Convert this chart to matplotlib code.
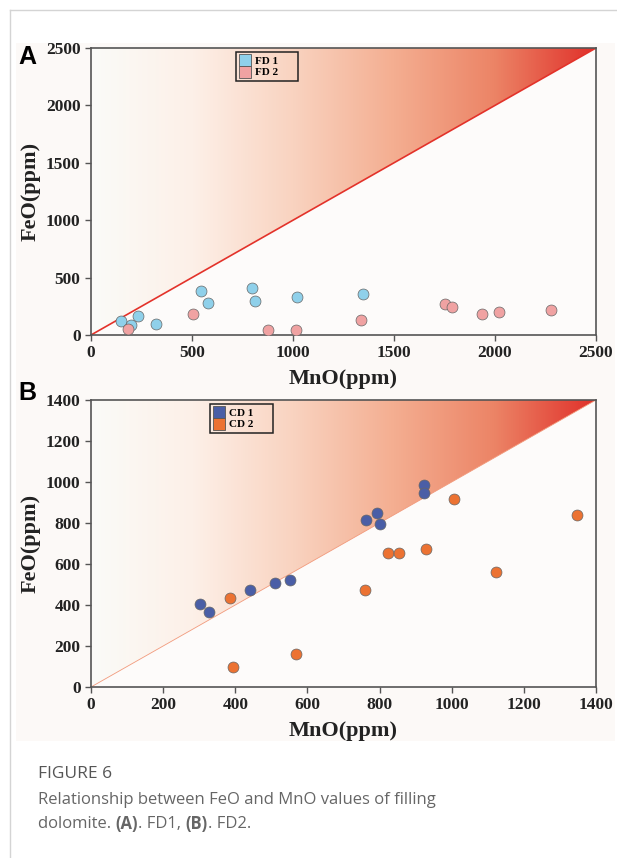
import numpy as np
import matplotlib
matplotlib.use("Agg")
import matplotlib.pyplot as plt
from matplotlib.colors import LinearSegmentedColormap
from matplotlib.patches import Polygon, Rectangle
from matplotlib.lines import Line2D

# Panel A: FD1 / FD2 (MnO, FeO in ppm)
fd1_mno = [148, 200, 235, 323, 547, 578, 795, 812, 1018, 1347]
fd1_feo = [122, 87, 165, 98, 386, 279, 407, 299, 331, 354]
fd2_mno = [181, 505, 874, 1013, 1335, 1750, 1785, 1935, 2021, 2279]
fd2_feo = [52, 180, 46, 41, 131, 267, 247, 183, 200, 215]

# Panel B: CD1 / CD2
cd1_mno = [303, 327, 442, 510, 552, 763, 793, 801, 922, 922]
cd1_feo = [404, 366, 472, 506, 524, 814, 847, 794, 983, 947]
cd2_mno = [385, 395, 569, 759, 824, 854, 928, 1005, 1122, 1346]
cd2_feo = [433, 96, 161, 474, 653, 653, 674, 915, 559, 840]

ticks_a = [0, 500, 1000, 1500, 2000, 2500]
ticks_b = [0, 200, 400, 600, 800, 1000, 1200, 1400]

serif = "Liberation Serif"
grad = LinearSegmentedColormap.from_list(
    "grad", ["#fafbf8", "#fdf0e8", "#f9d3c0", "#f4ae91", "#ec8466", "#e0302a"])

fig = plt.figure(figsize=(6.17, 8.58), dpi=100)
fig.patch.set_facecolor("white")

# page frame and image background
fig.add_artist(Line2D([10 / 617, 10 / 617], [0, 1 - 10 / 858],
                      transform=fig.transFigure, color="#d4d4d4", lw=1))
fig.add_artist(Line2D([10 / 617, 1], [1 - 10 / 858, 1 - 10 / 858],
                      transform=fig.transFigure, color="#d4d4d4", lw=1))
fig.add_artist(Rectangle((16 / 617, 1 - 741 / 858), 599 / 617, 698 / 858,
                         transform=fig.transFigure, color="#fcf9f7", lw=0,
                         zorder=-5))


def panel(rect, lim, ticks, s1, s2, c1, c2, labels, line_col, line_lw, leg_x):
    ax = fig.add_axes(rect)
    ax.set_facecolor("#fdfbfa")
    # gradient above the 1:1 line
    g = np.linspace(0, 1, 256).reshape(1, -1)
    im = ax.imshow(g, cmap=grad, extent=[0, lim, 0, lim], aspect="auto",
                   origin="lower", zorder=0)
    tri = Polygon([[0, 0], [0, lim], [lim, lim]], transform=ax.transData)
    im.set_clip_path(tri)
    ax.plot([0, lim], [0, lim], color=line_col, lw=line_lw, zorder=1)
    ax.scatter(*s1, s=62, color=c1, edgecolor="#666666", lw=0.5, zorder=3)
    ax.scatter(*s2, s=62, color=c2, edgecolor="#666666", lw=0.5, zorder=3)
    ax.set_xlim(0, lim)
    ax.set_ylim(0, lim)
    ax.set_xticks(ticks)
    ax.set_yticks(ticks)
    for sp in ax.spines.values():
        sp.set_color("#555555")
        sp.set_linewidth(1.2)
    ax.tick_params(direction="out", length=4, width=1, color="#555555",
                   labelsize=12.5)
    for t in ax.get_xticklabels() + ax.get_yticklabels():
        t.set_fontfamily(serif)
        t.set_fontweight("bold")
        t.set_color("#222222")
    ax.set_xlabel("MnO(ppm)", fontsize=16, fontweight="bold", family=serif,
                  color="#222222")
    ax.set_ylabel("FeO(ppm)", fontsize=16, fontweight="bold", family=serif,
                  color="#222222")
    ax.xaxis.set_label_coords(0.5, -0.12)
    ax.yaxis.set_label_coords(-0.1, 0.5)
    handles = [Line2D([], [], marker="s", ls="", markersize=9, color=c,
                      markeredgecolor="#555555", markeredgewidth=0.6)
               for c in (c1, c2)]
    leg = ax.legend(handles, [l + "      " for l in labels], loc="upper left",
                    bbox_to_anchor=(leg_x, 0.985), fancybox=False,
                    edgecolor="#222222", framealpha=1, facecolor="none",
                    prop={"family": serif, "weight": "bold", "size": 8},
                    handletextpad=0.4, borderpad=0.35, labelspacing=0.15,
                    handlelength=0.9, borderaxespad=0)
    leg.get_frame().set_linewidth(1.1)
    return ax


panel([91 / 617, 1 - 335 / 858, 505 / 617, 287 / 858], 2500, ticks_a,
      (fd1_mno, fd1_feo), (fd2_mno, fd2_feo), "#8fd0ea", "#f0a2a2",
      ["FD 1", "FD 2"], "#e3322a", 1.2, 0.288)
panel([91 / 617, 1 - 687 / 858, 505 / 617, 287 / 858], 1400, ticks_b,
      (cd1_mno, cd1_feo), (cd2_mno, cd2_feo), "#4a5ea6", "#ec7232",
      ["CD 1", "CD 2"], "#f29a7c", 0.6, 0.236)

fig.text(18 / 617, 1 - 57 / 858, "A", fontsize=18, fontweight="bold",
         family="Liberation Sans", va="center", ha="left")
fig.text(18 / 617, 1 - 393 / 858, "B", fontsize=18, fontweight="bold",
         family="Liberation Sans", va="center", ha="left")

# caption
cap = dict(family="Open Sans", fontsize=12, color="#666666")
fig.text(38 / 617, 1 - 774 / 858, "FIGURE 6", va="center", ha="left",
         family="Open Sans", fontsize=12.5, color="#555555")
fig.text(38 / 617, 1 - 800 / 858,
         "Relationship between FeO and MnO values of filling",
         va="center", ha="left", **cap)
pieces = [("dolomite. ", "normal"), ("(A)", "bold"), (". FD1, ", "normal"),
          ("(B)", "bold"), (". FD2.", "normal")]
prev = fig.text(38 / 617, 1 - 824 / 858, pieces[0][0], va="center",
                ha="left", **cap)
for txt, w in pieces[1:]:
    prev = plt.annotate(txt, xy=(1, 0.5), xycoords=prev, va="center",
                        ha="left", fontweight=w, annotation_clip=False, **cap)

fig.savefig("out.png", dpi=100, facecolor="white")
